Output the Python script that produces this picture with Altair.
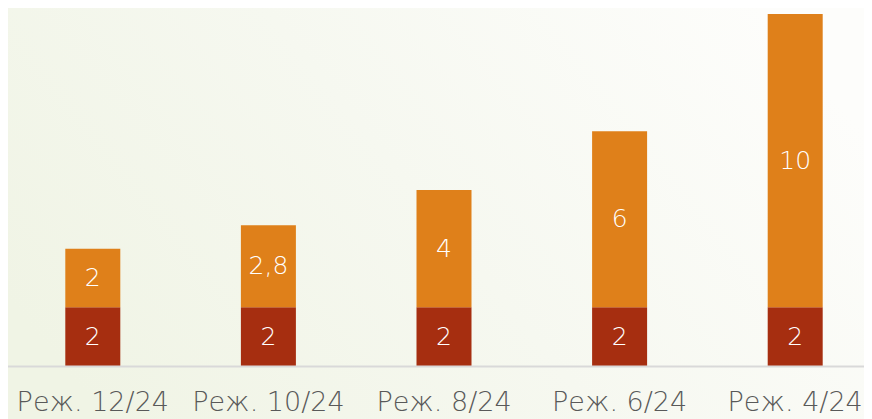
import altair as alt
import pandas as pd

categories = ["Реж. 12/24", "Реж. 10/24", "Реж. 8/24", "Реж. 6/24", "Реж. 4/24"]
base_values = [2, 2, 2, 2, 2]
extra_values = [2, 2.8, 4, 6, 10]
series_names = ["base", "extra"]
colors = ["#A62E10", "#DF801A"]

rows = []
for c, b, e in zip(categories, base_values, extra_values):
    for s, v in zip(series_names, [b, e]):
        rows.append({"cat": c, "series": s, "value": v,
                     "order": series_names.index(s),
                     "label": (f"{v:g}").replace(".", ",")})
df = pd.DataFrame(rows)

W, H = 856, 352

bg = alt.Chart(pd.DataFrame({"a": [0]})).mark_rect(
    fill=alt.LinearGradient(
        gradient="linear", x1=0, y1=0.7, x2=1, y2=0.3,
        stops=[alt.GradientStop(color="#f0f4e5", offset=0),
               alt.GradientStop(color="#f6f8f0", offset=0.5),
               alt.GradientStop(color="#fdfdfb", offset=1)])
).encode(x=alt.value(0), x2=alt.value(W), y=alt.value(-6), y2=alt.value(H + 60))

x = alt.X("cat:N", sort=categories, title=None,
          scale=alt.Scale(range=[-3, 875]),
          axis=alt.Axis(labelAngle=0, ticks=False, domainColor="#d9d9d9",
                        domainWidth=2, labelColor="#595959",
                        labelFont="DejaVu Sans", labelFontSize=27,
                        labelFontWeight=300, labelPadding=23, zindex=1))
y = alt.Y("value:Q", stack="zero", title=None,
          scale=alt.Scale(domain=[0, 12], nice=False), axis=None)

bars = alt.Chart(df).mark_bar(size=55).encode(
    x=x, y=y,
    color=alt.Color("series:N", scale=alt.Scale(domain=series_names, range=colors), legend=None),
    order=alt.Order("order:Q"),
)
text = alt.Chart(df).transform_stack(
    stack="value", groupby=["cat"], as_=["v0", "v1"], sort=[alt.SortField("order")]
).transform_calculate(mid="(datum.v0 + datum.v1) / 2").mark_text(
    color="white", font="DejaVu Sans", fontSize=25, fontWeight=300, baseline="middle"
).encode(
    x=alt.X("cat:N", sort=categories),
    y=alt.Y("mid:Q"),
    text="label:N",
)

chart = alt.layer(bg, bars, text).properties(
    width=W, height=H,
    autosize=alt.AutoSizeParams(type="none"),
    padding={"left": 0, "top": 6, "right": 0, "bottom": 53},
    background="#f5f8ee",
).configure_view(stroke=None)

chart.save("out.html", embed_options={"renderer": "svg", "actions": False})
